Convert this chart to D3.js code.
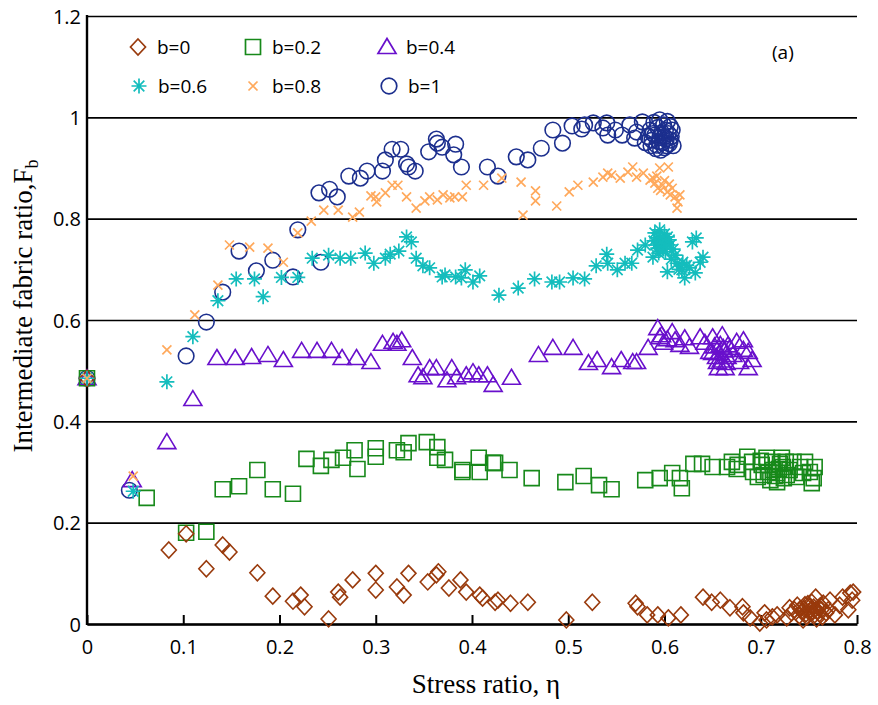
<!DOCTYPE html>
<html>
<head>
<meta charset="utf-8">
<script src="https://cdn.jsdelivr.net/npm/d3@7"></script>
<style>
  body { margin: 0; background: #fff; }
  svg text { fill: #000; }
</style>
</head>
<body>
<svg id="chart"></svg>
<script>
// Series labels
const labels = ["b=0", "b=0.2", "b=0.4", "b=0.6", "b=0.8", "b=1"];

// [stress ratio, intermediate fabric ratio] for each b value
const b0 = [[0,0.485],[0.085,0.146],[0.103,0.178],[0.124,0.109],[0.141,0.156],[0.148,0.142],[0.177,0.101],[0.193,0.055],[0.214,0.045],[0.222,0.057],[0.226,0.034],[0.251,0.010],[0.261,0.063],[0.263,0.053],[0.276,0.087],[0.300,0.100],[0.300,0.067],[0.322,0.073],[0.329,0.057],[0.334,0.100],[0.354,0.083],[0.363,0.097],[0.365,0.103],[0.376,0.071],[0.388,0.087],[0.394,0.063],[0.408,0.057],[0.411,0.051],[0.424,0.043],[0.427,0.047],[0.440,0.041],[0.458,0.043],[0.498,0.008],[0.525,0.043],[0.570,0.041],[0.572,0.034],[0.582,0.018],[0.593,0.018],[0.604,0.012],[0.617,0.018],[0.640,0.053],[0.649,0.043],[0.658,0.047],[0.668,0.032],[0.681,0.034],[0.682,0.022],[0.689,0.012],[0.699,0.002],[0.704,0.022],[0.706,0.008],[0.712,0.014],[0.717,0.018],[0.727,0.012],[0.730,0.032],[0.732,0.022],[0.735,0.028],[0.738,0.037],[0.740,0.016],[0.741,0.030],[0.743,0.024],[0.744,0.008],[0.745,0.030],[0.746,0.038],[0.747,0.020],[0.748,0.014],[0.749,0.040],[0.750,0.024],[0.751,0.034],[0.752,0.028],[0.753,0.043],[0.754,0.024],[0.755,0.033],[0.756,0.018],[0.757,0.053],[0.758,0.010],[0.759,0.026],[0.760,0.032],[0.761,0.020],[0.762,0.036],[0.763,0.028],[0.764,0.014],[0.765,0.041],[0.768,0.022],[0.770,0.028],[0.772,0.047],[0.777,0.018],[0.782,0.037],[0.785,0.053],[0.791,0.028],[0.793,0.061],[0.795,0.047],[0.796,0.063]];

const b02 = [[0,0.485],[0.062,0.249],[0.103,0.180],[0.124,0.182],[0.141,0.266],[0.158,0.272],[0.177,0.304],[0.193,0.266],[0.214,0.257],[0.228,0.326],[0.243,0.312],[0.254,0.324],[0.266,0.328],[0.278,0.343],[0.281,0.306],[0.300,0.347],[0.300,0.330],[0.322,0.343],[0.329,0.339],[0.334,0.357],[0.353,0.359],[0.364,0.349],[0.364,0.328],[0.372,0.324],[0.390,0.304],[0.390,0.300],[0.407,0.328],[0.408,0.300],[0.422,0.318],[0.424,0.318],[0.439,0.304],[0.462,0.288],[0.497,0.280],[0.516,0.292],[0.532,0.274],[0.545,0.266],[0.580,0.284],[0.595,0.288],[0.608,0.298],[0.616,0.288],[0.618,0.268],[0.630,0.316],[0.639,0.316],[0.650,0.310],[0.665,0.310],[0.670,0.320],[0.675,0.306],[0.676,0.314],[0.686,0.330],[0.691,0.320],[0.692,0.300],[0.697,0.290],[0.700,0.322],[0.701,0.314],[0.703,0.294],[0.706,0.328],[0.708,0.300],[0.710,0.284],[0.712,0.320],[0.713,0.304],[0.715,0.292],[0.717,0.298],[0.717,0.280],[0.719,0.306],[0.720,0.316],[0.722,0.328],[0.723,0.310],[0.724,0.288],[0.726,0.320],[0.727,0.294],[0.730,0.304],[0.734,0.320],[0.737,0.290],[0.741,0.310],[0.744,0.298],[0.746,0.320],[0.751,0.300],[0.753,0.278],[0.755,0.288],[0.756,0.310]];

const b04 = [[0,0.485],[0.047,0.284],[0.083,0.359],[0.110,0.444],[0.135,0.525],[0.154,0.525],[0.171,0.527],[0.188,0.531],[0.204,0.521],[0.223,0.539],[0.239,0.539],[0.254,0.539],[0.265,0.525],[0.280,0.525],[0.295,0.517],[0.307,0.553],[0.318,0.557],[0.322,0.553],[0.327,0.560],[0.338,0.525],[0.344,0.491],[0.349,0.487],[0.356,0.505],[0.363,0.505],[0.374,0.481],[0.379,0.505],[0.384,0.487],[0.394,0.491],[0.401,0.497],[0.407,0.491],[0.416,0.491],[0.422,0.472],[0.441,0.486],[0.469,0.531],[0.484,0.545],[0.505,0.545],[0.521,0.515],[0.530,0.521],[0.545,0.507],[0.555,0.521],[0.567,0.517],[0.571,0.517],[0.583,0.545],[0.593,0.584],[0.595,0.566],[0.597,0.570],[0.599,0.555],[0.603,0.562],[0.608,0.576],[0.611,0.560],[0.616,0.551],[0.621,0.564],[0.626,0.547],[0.637,0.566],[0.642,0.555],[0.647,0.537],[0.650,0.566],[0.650,0.535],[0.652,0.548],[0.654,0.527],[0.655,0.517],[0.656,0.505],[0.657,0.535],[0.658,0.551],[0.659,0.520],[0.660,0.570],[0.661,0.545],[0.662,0.540],[0.663,0.505],[0.664,0.515],[0.665,0.527],[0.666,0.550],[0.668,0.545],[0.671,0.531],[0.675,0.557],[0.678,0.517],[0.682,0.560],[0.682,0.541],[0.687,0.537],[0.687,0.505],[0.691,0.521]];

const b06 = [[0,0.485],[0.048,0.262],[0.083,0.478],[0.110,0.567],[0.136,0.638],[0.155,0.681],[0.174,0.681],[0.183,0.646],[0.202,0.684],[0.219,0.684],[0.234,0.722],[0.251,0.728],[0.263,0.722],[0.274,0.722],[0.289,0.732],[0.298,0.712],[0.310,0.722],[0.315,0.730],[0.324,0.736],[0.332,0.764],[0.337,0.754],[0.342,0.722],[0.349,0.707],[0.356,0.703],[0.369,0.685],[0.372,0.689],[0.383,0.685],[0.389,0.683],[0.393,0.699],[0.401,0.675],[0.408,0.687],[0.428,0.649],[0.448,0.663],[0.465,0.681],[0.483,0.675],[0.491,0.675],[0.505,0.683],[0.517,0.681],[0.529,0.707],[0.540,0.730],[0.541,0.712],[0.551,0.699],[0.559,0.712],[0.566,0.712],[0.572,0.738],[0.580,0.748],[0.588,0.724],[0.589,0.756],[0.590,0.772],[0.591,0.748],[0.592,0.762],[0.593,0.742],[0.594,0.732],[0.595,0.778],[0.596,0.745],[0.597,0.754],[0.598,0.762],[0.599,0.740],[0.600,0.770],[0.601,0.735],[0.602,0.752],[0.603,0.764],[0.603,0.695],[0.605,0.758],[0.606,0.748],[0.607,0.720],[0.609,0.740],[0.611,0.728],[0.613,0.712],[0.615,0.700],[0.618,0.699],[0.619,0.714],[0.621,0.683],[0.623,0.708],[0.626,0.703],[0.629,0.754],[0.632,0.693],[0.633,0.762],[0.637,0.714],[0.640,0.724]];

const b08 = [[0,0.485],[0.048,0.292],[0.083,0.541],[0.112,0.610],[0.136,0.669],[0.148,0.748],[0.169,0.744],[0.188,0.742],[0.204,0.714],[0.219,0.772],[0.233,0.795],[0.246,0.817],[0.261,0.817],[0.276,0.803],[0.283,0.813],[0.295,0.845],[0.300,0.843],[0.301,0.833],[0.310,0.851],[0.317,0.866],[0.323,0.866],[0.332,0.843],[0.342,0.821],[0.351,0.835],[0.356,0.843],[0.364,0.837],[0.370,0.847],[0.377,0.841],[0.382,0.843],[0.390,0.843],[0.394,0.866],[0.412,0.866],[0.431,0.880],[0.451,0.872],[0.453,0.807],[0.466,0.855],[0.466,0.835],[0.488,0.825],[0.501,0.853],[0.510,0.866],[0.526,0.872],[0.536,0.882],[0.541,0.890],[0.545,0.886],[0.554,0.880],[0.562,0.892],[0.567,0.902],[0.571,0.882],[0.578,0.890],[0.585,0.876],[0.588,0.880],[0.590,0.870],[0.592,0.884],[0.593,0.860],[0.595,0.900],[0.596,0.856],[0.598,0.866],[0.600,0.875],[0.603,0.853],[0.604,0.902],[0.605,0.868],[0.606,0.847],[0.608,0.860],[0.611,0.843],[0.613,0.821],[0.614,0.833],[0.616,0.847]];

const b1 = [[0,0.485],[0.044,0.264],[0.103,0.529],[0.124,0.596],[0.141,0.655],[0.158,0.736],[0.176,0.697],[0.193,0.718],[0.214,0.685],[0.219,0.778],[0.243,0.714],[0.241,0.851],[0.252,0.858],[0.260,0.843],[0.272,0.884],[0.284,0.880],[0.291,0.894],[0.307,0.894],[0.310,0.916],[0.317,0.937],[0.326,0.937],[0.332,0.908],[0.334,0.902],[0.341,0.894],[0.355,0.932],[0.363,0.957],[0.364,0.949],[0.369,0.941],[0.383,0.947],[0.381,0.926],[0.389,0.902],[0.416,0.902],[0.427,0.884],[0.446,0.922],[0.458,0.916],[0.472,0.939],[0.484,0.975],[0.494,0.949],[0.504,0.983],[0.514,0.977],[0.517,0.985],[0.526,0.989],[0.536,0.979],[0.540,0.989],[0.541,0.965],[0.549,0.975],[0.556,0.965],[0.564,0.985],[0.569,0.959],[0.571,0.971],[0.577,0.991],[0.580,0.950],[0.583,0.962],[0.585,0.975],[0.586,0.944],[0.587,0.955],[0.588,0.968],[0.589,0.990],[0.590,0.965],[0.591,0.938],[0.592,0.945],[0.593,0.980],[0.594,0.952],[0.595,0.995],[0.595,0.960],[0.596,0.935],[0.597,0.970],[0.598,0.950],[0.599,0.985],[0.600,0.940],[0.600,0.962],[0.601,0.975],[0.602,0.958],[0.602,0.944],[0.603,0.992],[0.604,0.968],[0.605,0.948],[0.606,0.982],[0.606,0.955],[0.607,0.962],[0.608,0.975],[0.609,0.944]];

// Axis ticks
const xTicks = [0, 0.1, 0.2, 0.3, 0.4, 0.5, 0.6, 0.7, 0.8];
const yTicks = [0, 0.2, 0.4, 0.6, 0.8, 1, 1.2];

const width = 878, height = 705;
const margin = { top: 16, right: 21, bottom: 81, left: 87 };

const svg = d3.select("#chart")
    .attr("width", width)
    .attr("height", height);

const x = d3.scaleLinear().domain([0, 0.8]).range([margin.left, width - margin.right]);
const y = d3.scaleLinear().domain([0, 1.2]).range([height - margin.bottom, margin.top]);

// Marker outlines, centred on the origin
const shapes = {
    diamond: "M0,-8L7.5,0L0,8L-7.5,0Z",
    square: "M-7.5,-7.5H7.5V7.5H-7.5Z",
    triangle: "M0,-8.5L9,6.5H-9Z",
    star: "M0,-7.5V7.5M-7.5,0H7.5M-5.3,-5.3L5.3,5.3M-5.3,5.3L5.3,-5.3",
    cross: "M-4.5,-4.5L4.5,4.5M-4.5,4.5L4.5,-4.5",
    circle: "M7.8,0A7.8,7.8 0 1,1 -7.8,0A7.8,7.8 0 1,1 7.8,0Z"
};

const series = [
    { label: labels[0], data: b0,  shape: "diamond",  color: "#993a0c" },
    { label: labels[1], data: b02, shape: "square",   color: "#17891a" },
    { label: labels[2], data: b04, shape: "triangle", color: "#6910cc" },
    { label: labels[3], data: b06, shape: "star",     color: "#14bdbd" },
    { label: labels[4], data: b08, shape: "cross",    color: "#ffa95c" },
    { label: labels[5], data: b1,  shape: "circle",   color: "#1c2f8e" }
];

// Y axis with full-width gridlines
const yAxis = svg.append("g")
    .attr("transform", `translate(${margin.left},0)`)
    .call(d3.axisLeft(y).tickValues(yTicks)
        .tickSize(-(width - margin.left - margin.right))
        .tickPadding(6)
        .tickFormat(d3.format("~g")));
yAxis.select(".domain").remove();
yAxis.selectAll(".tick line").attr("stroke", "#000").attr("stroke-width", 1.6);
yAxis.selectAll(".tick text")
    .attr("font-family", "'Open Sans', sans-serif")
    .attr("font-size", 20)
    .attr("dy", "0.36em");

// X axis with inward ticks
const xAxis = svg.append("g")
    .attr("transform", `translate(0,${height - margin.bottom})`)
    .call(d3.axisBottom(x).tickValues(xTicks)
        .tickSizeInner(-9).tickSizeOuter(0)
        .tickPadding(16)
        .tickFormat(d3.format("~g")));
xAxis.select(".domain").attr("stroke", "#000").attr("stroke-width", 2.4);
xAxis.selectAll(".tick line").attr("stroke", "#000").attr("stroke-width", 2);
xAxis.selectAll(".tick text")
    .attr("font-family", "'Open Sans', sans-serif")
    .attr("font-size", 20);

// Left axis line
svg.append("line")
    .attr("x1", margin.left).attr("x2", margin.left)
    .attr("y1", y(1.2) - 1).attr("y2", y(0) + 1)
    .attr("stroke", "#000").attr("stroke-width", 2.4);

// Data markers
const order = [5, 2, 1, 0, 3, 4];
order.forEach(function(i) {
    const s = series[i];
    const filled = s.shape === "star" || s.shape === "cross";
    svg.append("g").selectAll("path")
        .data(s.data)
        .enter()
        .append("path")
        .attr("d", shapes[s.shape])
        .attr("transform", function(d) { return `translate(${x(d[0])},${y(d[1])})`; })
        .attr("fill", "none")
        .attr("stroke", s.color)
        .attr("stroke-width", filled ? 1.7 : 1.6);
});

// Legend, two rows of three
const legendPos = [[138, 47], [253, 47], [387, 47], [139, 86], [253, 86], [389, 86]];
const legend = svg.append("g").attr("font-family", "'Open Sans', sans-serif").attr("font-size", 19);
series.forEach(function(s, i) {
    const p = legendPos[i];
    legend.append("path")
        .attr("d", shapes[s.shape])
        .attr("transform", `translate(${p[0]},${p[1]})`)
        .attr("fill", "none")
        .attr("stroke", s.color)
        .attr("stroke-width", 1.7);
    legend.append("text")
        .attr("x", p[0] + 19)
        .attr("y", p[1] + 7)
        .text(s.label);
});

// Panel tag
svg.append("text")
    .attr("x", 772).attr("y", 59)
    .attr("font-family", "'Open Sans', sans-serif")
    .attr("font-size", 19)
    .text("(a)");

// Axis titles
svg.append("text")
    .attr("x", 486).attr("y", 693)
    .attr("text-anchor", "middle")
    .attr("font-family", "'Liberation Serif', 'Times New Roman', serif")
    .attr("font-size", 27)
    .text("Stress ratio, η");

const yTitle = svg.append("text")
    .attr("transform", "translate(32,306) rotate(-90)")
    .attr("text-anchor", "middle")
    .attr("font-family", "'Liberation Serif', 'Times New Roman', serif")
    .attr("font-size", 27);
yTitle.append("tspan").text("Intermediate fabric ratio,F");
yTitle.append("tspan").attr("font-size", 18).attr("dy", 6).text("b");
</script>
</body>
</html>
